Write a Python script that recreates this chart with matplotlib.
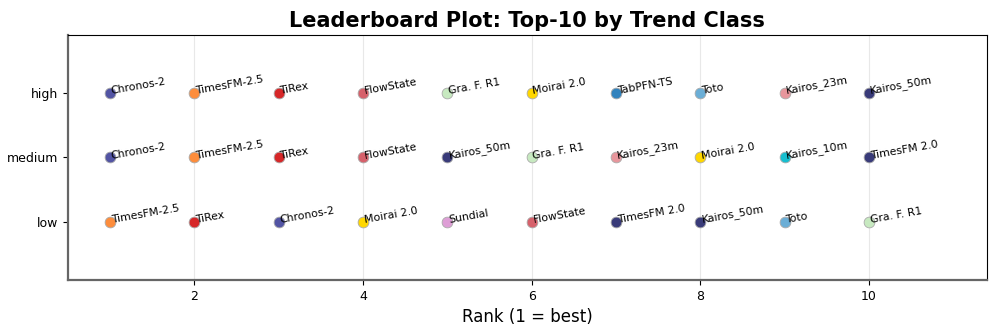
import matplotlib
matplotlib.use("Agg")
import matplotlib.pyplot as plt

classes = ["low", "medium", "high"]
ranks = list(range(1, 11))
models_high = ["Chronos-2", "TimesFM-2.5", "TiRex", "FlowState", "Gra. F. R1",
               "Moirai 2.0", "TabPFN-TS", "Toto", "Kairos_23m", "Kairos_50m"]
models_medium = ["Chronos-2", "TimesFM-2.5", "TiRex", "FlowState", "Kairos_50m",
                 "Gra. F. R1", "Kairos_23m", "Moirai 2.0", "Kairos_10m", "TimesFM 2.0"]
models_low = ["TimesFM-2.5", "TiRex", "Chronos-2", "Moirai 2.0", "Sundial",
              "FlowState", "TimesFM 2.0", "Kairos_50m", "Toto", "Gra. F. R1"]

colors = {
    "Chronos-2": "#5254a3",
    "TimesFM-2.5": "#fd8d3c",
    "TiRex": "#d62728",
    "FlowState": "#d6616b",
    "Gra. F. R1": "#c7e9c0",
    "Moirai 2.0": "#ffd700",
    "TabPFN-TS": "#3182bd",
    "Toto": "#6baed6",
    "Kairos_23m": "#e7969c",
    "Kairos_50m": "#393b79",
    "TimesFM 2.0": "#393b79",
    "Sundial": "#de9ed6",
    "Kairos_10m": "#17becf",
}

fig = plt.figure(figsize=(9.97, 3.32), dpi=100)
ax = fig.add_axes([0.068, 0.157, 0.922, 0.738])

rows = {"low": models_low, "medium": models_medium, "high": models_high}
for yi, cls in enumerate(classes):
    models = rows[cls]
    for r, m in zip(ranks, models):
        ax.scatter(r, yi, s=60, color=colors[m], edgecolor="#aaaaaa",
                   linewidth=0.6, zorder=3)
        ax.annotate(m, (r, yi), xytext=(0.3, -2.5), textcoords="offset points",
                    ha="left", va="bottom", rotation=10, fontsize=7.8, zorder=4)

ax.set_xlim(0.5, 11.4)
ax.set_ylim(-0.9, 2.9)
ax.set_yticks(range(len(classes)))
ax.set_yticklabels(classes, fontsize=9)
ax.set_xticks([2, 4, 6, 8, 10])
ax.tick_params(axis="x", labelsize=9)
ax.grid(axis="x", color="#e8e8e8", linewidth=0.8)
ax.set_axisbelow(True)
for s in ["left", "bottom"]:
    ax.spines[s].set_color("#666666")
    ax.spines[s].set_linewidth(1.6)
ax.set_xlabel("Rank (1 = best)", fontsize=12)
ax.set_title("Leaderboard Plot: Top-10 by Trend Class", fontsize=15, fontweight="bold")

fig.savefig("out.png", dpi=100)
